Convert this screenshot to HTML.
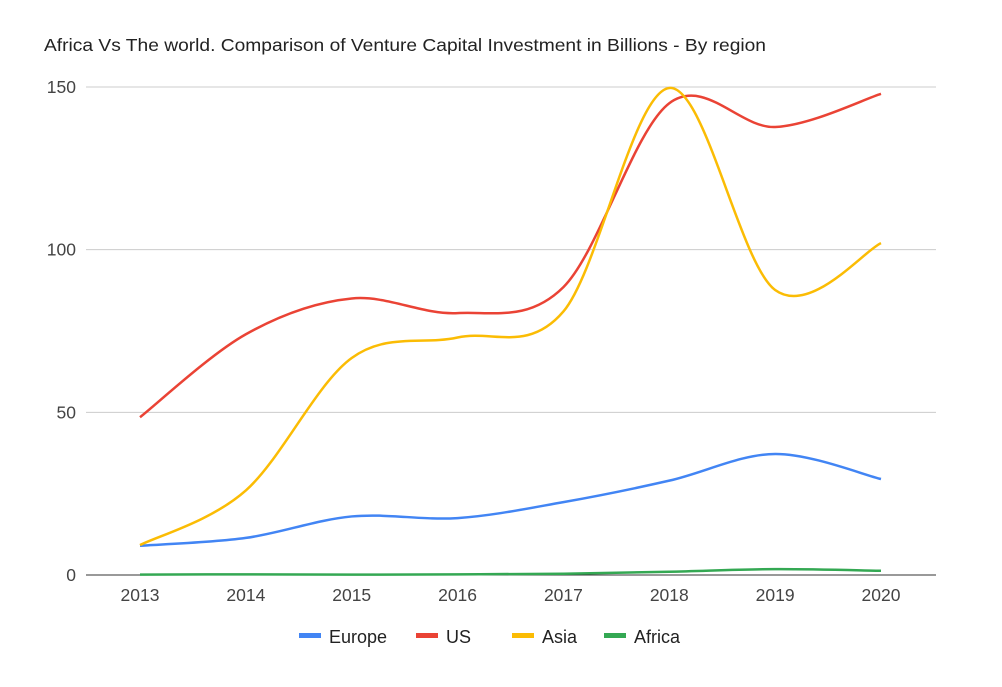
<!DOCTYPE html>
<html><head><meta charset="utf-8"><style>
body{margin:0;background:#fff;font-family:"Liberation Sans",Arial,sans-serif}
svg text{font-family:"Liberation Sans",Arial,sans-serif}
</style></head><body>
<svg id="c" width="1002" height="682">
<text x="44" y="51" font-size="17.5" fill="#222" textLength="722" lengthAdjust="spacingAndGlyphs">Africa Vs The world. Comparison of Venture Capital Investment in Billions - By region</text>
<g id="grid"></g><g id="series"></g><g id="legend"></g>
</svg>
<script>
const years=["2013","2014","2015","2016","2017","2018","2019","2020"];
const yTicks=[0,50,100,150];
const europe=[9,11.4,18,17.5,22.4,29,37.2,29.5];
const us=[48.5,74,85,80.5,88.5,145,137.7,147.9];
const asia=[9.2,26,66.7,73,81,149.7,87.6,102];
const africa=[0.1,0.2,0.1,0.2,0.4,1,1.8,1.3];
const seriesNames=["Europe","US","Asia","Africa"];
const seriesColors=["#4285f4","#ea4335","#fbbc04","#34a853"];
const seriesData=[europe,us,asia,africa];
const NS="http://www.w3.org/2000/svg";
const x0=140,x1=881,yb=575,yt=87,ymax=150;
const xs=i=>x0+(x1-x0)*i/(years.length-1);
const ys=v=>yb-(yb-yt)*v/ymax;
function mk(t,a,p){const e=document.createElementNS(NS,t);for(const k in a)e.setAttribute(k,a[k]);p.appendChild(e);return e;}
const grid=document.getElementById('grid');
yTicks.forEach(t=>{
 const l=mk('line',{x1:86,x2:936,y1:ys(t),y2:ys(t),stroke:t===0?'#333':'#ccc','stroke-width':1},grid);
 
 
 const tx=mk('text',{x:76,y:ys(t)+6,'text-anchor':'end','font-size':17.5,fill:'#444'},grid);
 tx.textContent=t;
 
 
});
years.forEach((y,i)=>{
 const tx=mk('text',{x:xs(i),y:601,'text-anchor':'middle','font-size':17.5,fill:'#444'},grid);
 tx.textContent=y;
 
 
});
const sg=document.getElementById('series');
seriesData.forEach((d,s)=>{
 const p=d.map((v,i)=>[xs(i),ys(v)]);
 let path='M'+p[0][0]+','+p[0][1];
 for(let i=0;i<p.length-1;i++){
  const a=p[Math.max(i-1,0)],b=p[i],c=p[i+1],e=p[Math.min(i+2,p.length-1)];
  const k=0.5/3;
  path+=' C'+(b[0]+(c[0]-a[0])*k)+','+(b[1]+(c[1]-a[1])*k)+' '+(c[0]-(e[0]-b[0])*k)+','+(c[1]-(e[1]-b[1])*k)+' '+c[0]+','+c[1];
 }
 const el=mk('path',{d:path,fill:'none',stroke:seriesColors[s],'stroke-width':2.5},sg);
 
 
});
const lg=document.getElementById('legend');
const lx=[299,416,512,604];
seriesNames.forEach((n,i)=>{
 const g=mk('g',{},lg);
 
 
 mk('rect',{x:lx[i],y:633,width:22,height:5,fill:seriesColors[i]},g);
 const t=mk('text',{x:lx[i]+30,y:643,'font-size':18,fill:'#222'},g);
 t.textContent=n;
});
</script>
</body></html>
